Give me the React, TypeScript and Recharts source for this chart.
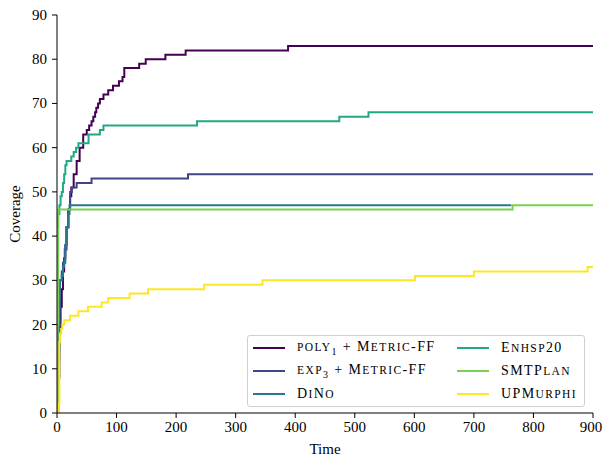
import React from 'react';
import { LineChart, Line, XAxis, YAxis } from 'recharts';

// [time, coverage] step points
const poly1Points: [number, number][] = [
  [0, 0], [2, 8], [4, 18], [6, 24], [8, 28], [10, 32], [12, 35], [14, 38], [16, 42],
  [19, 46], [22, 49], [24, 51], [28, 54], [33, 57], [38, 60], [44, 63], [50, 64],
  [54, 65], [58, 66], [61, 67], [64, 68], [66, 69], [69, 70], [72, 71], [78, 72],
  [86, 73], [94, 74], [104, 75], [110, 76], [113, 78], [138, 79], [149, 80],
  [182, 81], [216, 82], [388, 83], [900, 83],
];
const exp3Points: [number, number][] = [
  [0, 0], [2, 12], [4, 24], [5, 30], [8, 32], [10, 34], [13, 37], [16, 42], [19, 46],
  [22, 50], [25, 51], [33, 52], [58, 53], [220, 54], [900, 54],
];
const dinoPoints: [number, number][] = [
  [0, 0], [2, 14], [4, 26], [5, 30], [8, 31], [10, 33], [12, 34], [14, 38], [16, 42],
  [19, 45], [21, 47], [763, 47],
];
const enhspPoints: [number, number][] = [
  [0, 42], [2, 45], [4, 47], [6, 49], [8, 50], [10, 52], [12, 54], [14, 56], [16, 57],
  [24, 58], [28, 59], [32, 60], [36, 61], [53, 63], [72, 64], [78, 65], [235, 66],
  [474, 67], [523, 68], [900, 68],
];
const smtPoints: [number, number][] = [
  [0, 0], [1, 20], [2, 46], [765, 47], [900, 47],
];
const upmPoints: [number, number][] = [
  [0, 0], [3, 2], [4, 16], [5, 18], [7, 19], [9, 20], [12, 21], [22, 22], [36, 23],
  [52, 24], [75, 25], [86, 26], [122, 27], [153, 28], [247, 29], [345, 30], [601, 31],
  [700, 32], [891, 33], [900, 33],
];

const xTicks = [0, 100, 200, 300, 400, 500, 600, 700, 800, 900];
const yTicks = [0, 10, 20, 30, 40, 50, 60, 70, 80, 90];

const toRows = (pts: [number, number][]) => pts.map(([x, y]) => ({ x, y }));

// label parts: [text, kind] where kind is 'c' (capital), 's' (small cap), 'b' (subscript)
type Part = [string, 'c' | 's' | 'b'];
const series: { key: string; label: Part[]; color: string; points: [number, number][] }[] = [
  { key: 'poly1', label: [['POLY', 's'], ['1', 'b'], [' + M', 'c'], ['ETRIC', 's'], ['-FF', 'c']], color: '#440154', points: poly1Points },
  { key: 'exp3', label: [['EXP', 's'], ['3', 'b'], [' + M', 'c'], ['ETRIC', 's'], ['-FF', 'c']], color: '#414487', points: exp3Points },
  { key: 'dino', label: [['D', 'c'], ['I', 's'], ['N', 'c'], ['O', 's']], color: '#2a788e', points: dinoPoints },
  { key: 'enhsp', label: [['E', 'c'], ['NHSP', 's'], ['20', 'c']], color: '#22a884', points: enhspPoints },
  { key: 'smt', label: [['SMTP', 'c'], ['LAN', 's']], color: '#7ad151', points: smtPoints },
  { key: 'upm', label: [['UPM', 'c'], ['URPHI', 's']], color: '#fde725', points: upmPoints },
];

const FONT = '"Liberation Serif", "DejaVu Serif", serif';

const XTick = (props: any) => {
  const { x, y, payload } = props;
  return (
    <text x={x} y={y} dy={12} textAnchor="middle" fontSize={15} fontFamily={FONT} fill="#000">
      {payload.value}
    </text>
  );
};

const YTick = (props: any) => {
  const { x, y, payload } = props;
  return (
    <text x={x} y={y} dy={5} textAnchor="end" fontSize={15} fontFamily={FONT} fill="#000">
      {payload.value}
    </text>
  );
};

const YLabel = () => (
  <text
    x={17}
    y={214}
    transform="rotate(-90 17 214)"
    textAnchor="middle"
    dominantBaseline="middle"
    fontSize={15}
    fontFamily={FONT}
    fill="#000"
  >
    Coverage
  </text>
);

function LegendItem({ s }: { s: (typeof series)[number] }) {
  return (
    <div style={{ display: 'flex', alignItems: 'center', height: 23 }}>
      <svg width={32} height={4} style={{ marginRight: 12 }}>
        <line x1={0} y1={2} x2={32} y2={2} stroke={s.color} strokeWidth={2} />
      </svg>
      <span style={{ whiteSpace: 'pre', letterSpacing: 1.4 }}>
        {s.label.map(([t, k], i) =>
          k === 'b' ? (
            <sub key={i} style={{ fontSize: 10 }}>{t}</sub>
          ) : (
            <span key={i} style={{ fontSize: k === 's' ? 11.5 : 14 }}>{t}</span>
          )
        )}
      </span>
    </div>
  );
}

export default function App() {
  const left = series.slice(0, 3);
  const right = series.slice(3);
  return (
    <div style={{ position: 'absolute', left: 0, top: 0, width: 603, height: 456, background: '#fff', fontFamily: FONT }}>
      <LineChart width={603} height={456} margin={{ top: 15, right: 10, bottom: 0, left: 0 }}>
        <XAxis
          dataKey="x"
          type="number"
          domain={[0, 900]}
          ticks={xTicks}
          allowDataOverflow
          height={43}
          tickSize={5}
          tickMargin={2}
          tick={<XTick />}
          stroke="#000"
          label={{ value: 'Time', position: 'insideBottom', offset: 2, fontSize: 15, fontFamily: FONT, fill: '#000' }}
        />
        <XAxis xAxisId="top" orientation="top" dataKey="x" type="number" domain={[0, 900]} height={0} tick={false} tickLine={false} stroke="#000" />
        <YAxis
          type="number"
          domain={[0, 90]}
          ticks={yTicks}
          allowDataOverflow
          width={57}
          tickSize={5}
          tickMargin={5}
          tick={<YTick />}
          stroke="#000"
          label={<YLabel />}
        />
        <YAxis yAxisId="right" orientation="right" domain={[0, 90]} width={0} tick={false} tickLine={false} stroke="#000" />
        {series.map((s) => (
          <Line
            key={s.key}
            data={toRows(s.points)}
            dataKey="y"
            type="stepAfter"
            stroke={s.color}
            strokeWidth={2}
            dot={false}
            activeDot={false}
            isAnimationActive={false}
          />
        ))}
      </LineChart>
      <div
        style={{
          position: 'absolute',
          left: 247,
          top: 335,
          width: 338,
          height: 72,
          boxSizing: 'border-box',
          border: '1px solid #d0d0d0',
          borderRadius: 3,
          background: 'rgba(255,255,255,0.8)',
          display: 'flex',
          padding: '0 0 0 5px',
          fontSize: 14,
          color: '#000',
        }}
      >
        <div style={{ display: 'flex', flexDirection: 'column', justifyContent: 'center', width: 204 }}>
          {left.map((s) => <LegendItem key={s.key} s={s} />)}
        </div>
        <div style={{ display: 'flex', flexDirection: 'column', justifyContent: 'center' }}>
          {right.map((s) => <LegendItem key={s.key} s={s} />)}
        </div>
      </div>
    </div>
  );
}
